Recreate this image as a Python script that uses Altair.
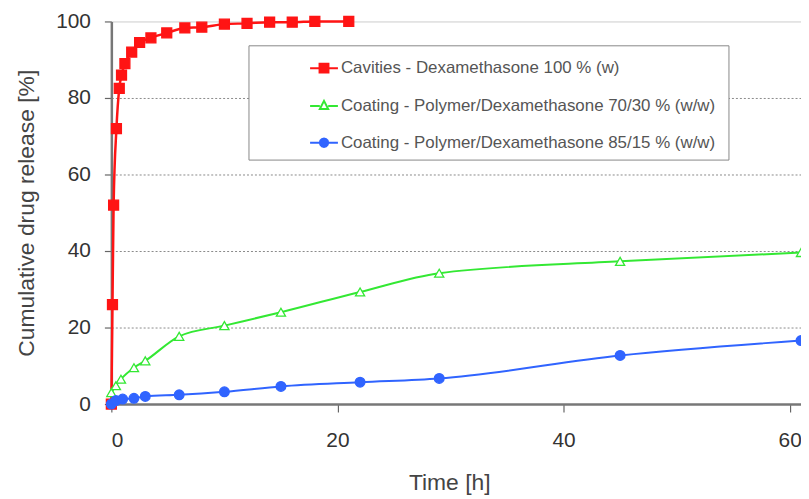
import altair as alt
import pandas as pd

# ---- data ----
series_names = [
    "Cavities - Dexamethasone  100 % (w)",
    "Coating - Polymer/Dexamethasone  70/30 % (w/w)",
    "Coating - Polymer/Dexamethasone  85/15 % (w/w)",
]
series_colors = ["#ff1414", "#33e833", "#3064ff"]
series_fills = ["#ff1414", "#ffffff", "#3064ff"]

red_t = [0, 0.1, 0.2, 0.45, 0.7, 0.9, 1.2, 1.8, 2.5, 3.5, 4.9, 6.5, 8, 10, 12, 14, 16, 18, 21]
red_v = [0, 26, 52, 72, 82.5, 86, 89, 92, 94.5, 95.7, 97, 98.3, 98.5, 99.3, 99.5, 99.8, 99.8, 100, 100]

green_t = [0, 0.4, 0.85, 2, 3, 6, 10, 15, 22, 29, 45, 61]
green_v = [3, 4.8, 6.5, 9.5, 11.3, 17.7, 20.5, 24, 29.3, 34.2, 37.3, 39.6]

blue_t = [0, 0.4, 1, 2, 3, 6, 10, 15, 22, 29, 45, 61]
blue_v = [0, 0.9, 1.3, 1.5, 2, 2.4, 3.2, 4.6, 5.7, 6.7, 12.7, 16.6]

x_ticks = [0, 20, 40, 60]
y_ticks = [0, 20, 40, 60, 80, 100]

rows = []
for name, ts, vs in zip(series_names, [red_t, green_t, blue_t], [red_v, green_v, blue_v]):
    for t, v in zip(ts, vs):
        rows.append({"series": name, "t": t, "v": v})
df = pd.DataFrame(rows)

FONT = "Liberation Sans"

x_enc = alt.X("t:Q", scale=alt.Scale(domain=[0, 61], nice=False, zero=False),
              axis=alt.Axis(values=x_ticks, title="Time [h]", grid=False, tickSize=8,
                            labelPadding=18, titlePadding=21, titleX=340))
y_enc = alt.Y("v:Q", scale=alt.Scale(domain=[0, 100], nice=False),
              axis=alt.Axis(values=y_ticks, title="Cumulative drug release [%]",
                            tickSize=7, labelPadding=14, titlePadding=17,
                            gridOpacity=alt.condition("datum.value >= 100 || datum.value <= 0",
                                                      alt.value(0), alt.value(1))))

base = alt.Chart(df)

marker_specs = ["square", "triangle-up", "circle"]
marker_sizes = [100, 85, 95]
line_widths = [2.5, 2, 2]
layers = []
for i, (name, col, lw) in enumerate(zip(series_names, series_colors, line_widths)):
    sub = base.transform_filter(alt.datum.series == name)
    layers.append(
        sub.mark_line(interpolate="monotone", strokeWidth=lw, color=col).encode(
            x=x_enc if i == 0 else "t:Q", y=y_enc if i == 0 else "v:Q")
    )
for name, col, fillc, shp, sz in zip(series_names, series_colors, series_fills, marker_specs, marker_sizes):
    layers.append(
        base.transform_filter(alt.datum.series == name).mark_point(
            shape=shp, filled=True, fill=fillc, stroke=col, strokeWidth=1.3,
            size=sz, opacity=1,
        ).encode(x="t:Q", y="v:Q")
    )

legend_paths = [
    "M-1,0H1M-0.32,-0.32H0.32V0.32H-0.32Z",
    "M-1,0H-0.3M0.3,0H1M0,-0.36L0.3,0.22H-0.3Z",
    "M-1,0H1M0.3,0L0.26,0.15L0.15,0.26L0,0.3L-0.15,0.26L-0.26,0.15L-0.3,0L-0.26,-0.15L-0.15,-0.26L0,-0.3L0.15,-0.26L0.26,-0.15Z",
]
leg = alt.Legend(
    orient="none", legendX=138, legendY=24, title=None,
    strokeColor="#888", fillColor="#ffffff", padding=8,
    symbolOffset=53, symbolSize=784, symbolStrokeWidth=2, symbolOpacity=1,
    labelFont=FONT, labelFontSize=17, labelColor="#555", labelOffset=2,
    labelLimit=600, rowPadding=14,
)
legend_layer = base.mark_point(filled=True).encode(
    x="t:Q", y="v:Q",
    opacity=alt.value(0),
    shape=alt.Shape("series:N", scale=alt.Scale(domain=series_names, range=legend_paths), legend=leg),
    fill=alt.Fill("series:N", scale=alt.Scale(domain=series_names, range=series_fills), legend=leg),
    stroke=alt.Stroke("series:N", scale=alt.Scale(domain=series_names, range=series_colors), legend=leg),
)
layers.append(legend_layer)

chart = alt.layer(*layers).properties(
    width=694, height=385,
    autosize=alt.AutoSizeParams(type="none"),
    padding={"left": 104, "top": 12, "right": 0, "bottom": 92},
).configure_view(
    stroke="#cccccc", strokeWidth=1,
).configure_axis(
    labelFont=FONT, titleFont=FONT, labelFontSize=21, titleFontSize=23,
    labelColor="#333", titleColor="#444", titleFontWeight="normal",
    domainColor="#777777", domainWidth=2.5, tickColor="#666", tickWidth=1.2,
    gridColor="#8a8a8a", gridDash=[2, 2], gridWidth=1,
)

chart.save("out.html", embed_options={"renderer": "svg", "actions": False})
